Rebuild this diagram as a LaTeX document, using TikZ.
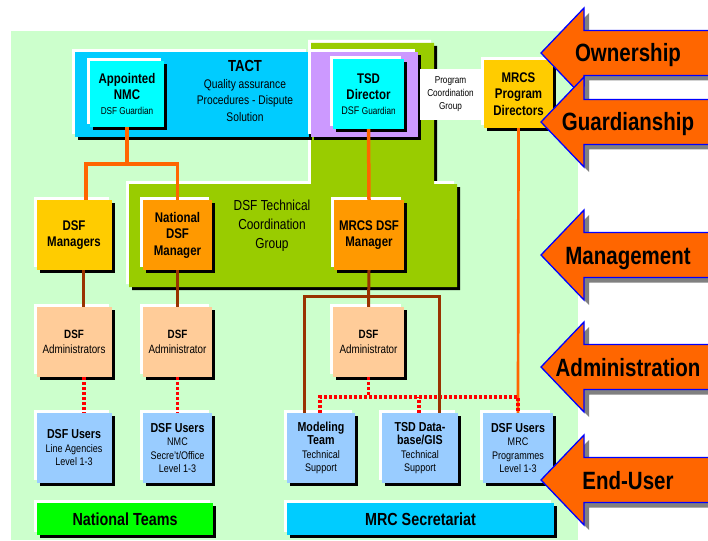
\documentclass[tikz,border=0pt]{standalone}
\usepackage{fontspec}
\setmainfont{Liberation Sans}[FakeStretch=0.82]
\usetikzlibrary{positioning}
\definecolor{cmint}{HTML}{CCFFCC}
\definecolor{colive}{HTML}{99CC00}
\definecolor{csky}{HTML}{00CCFF}
\definecolor{ccyan}{HTML}{00FFFF}
\definecolor{clilac}{HTML}{CC99FF}
\definecolor{cgold}{HTML}{FFCC00}
\definecolor{camber}{HTML}{FF9900}
\definecolor{cpeach}{HTML}{FFCC99}
\definecolor{cpale}{HTML}{99CCFF}
\definecolor{clime}{HTML}{00FF00}
\definecolor{corange}{HTML}{FF6600}
\definecolor{cbrown}{HTML}{993300}
\definecolor{cred}{HTML}{FF0000}
\definecolor{cedge}{HTML}{0000FF}
\definecolor{cgrey}{HTML}{808080}
\newcommand{\fsz}[2]{\fontsize{#1}{#2}\selectfont}
\newcommand{\uhead}[1]{{\fsz{13}{15}\bfseries #1}}
\tikzset{
  chartbox/.style={fill=#1, inner sep=0pt, align=center,
    preaction={fill=black, transform canvas={xshift=3pt, yshift=-3pt}},
    preaction={fill=white, transform canvas={xshift=-3pt, yshift=3pt}}},
  chartbox/.default=white,
  mgrbox/.style={chartbox=#1, minimum height=70pt, font=\fsz{14}{16.5}\bfseries},
  admbox/.style={chartbox=cpeach, minimum height=70pt, font=\fsz{12}{15}},
  userbox/.style={chartbox=cpale, minimum height=70pt, font=\fsz{11}{13.5}},
  barbox/.style={chartbox=#1, minimum height=32pt, font=\fsz{17.5}{20}\bfseries},
  orangeline/.style={draw=corange, line width=3.5pt},
  brownline/.style={draw=cbrown, line width=3pt},
  reddots/.style={draw=cred, line width=3.5pt, dash pattern=on 3pt off 2pt},
  levelarrow/.style={fill=corange, draw=cedge, line width=1.3pt, line join=miter},
  leveltext/.style={font=\fsz{25}{28}\bfseries, anchor=base},
}

\begin{document}
\begin{tikzpicture}[x=1pt, y=-1pt]
  \clip (0,0) rectangle (708,540);
  \fill[white] (0,0) rectangle (708,540);
  \fill[cmint] (11,31) rectangle (578,540);
  % technical coordination block
  \path[chartbox=colive] (311,43) -- (434,43) -- (434,184) -- (457,184) -- (457,287)
    -- (129,287) -- (129,184) -- (311,184) -- cycle;
  \node[font=\fsz{14.5}{19}, align=center] (tcg) at (272,226) {DSF Technical\\Coordination\\Group};
  % TACT strip and guardians
  \path[chartbox=csky] (75,52) rectangle (309,137);
  \path[chartbox=clilac] (311,52) rectangle (418,137);
  \node[font=\fsz{12.5}{16.5}, align=center] (tact) at (245,91)
    {{\fsz{16}{16.5}\bfseries TACT}\\Quality assurance\\Procedures - Dispute\\Solution};
  \node[chartbox=ccyan, minimum width=74pt, minimum height=66pt, font=\fsz{14}{16.5}\bfseries] (nmc) at (127,94)
    {Appointed\\NMC\\[-1.5pt]{\fsz{10}{12}\mdseries DSF Guardian}};
  \node[chartbox=ccyan, minimum width=71pt, minimum height=70pt, font=\fsz{14}{16.5}\bfseries] (tsd) at (368.5,94)
    {TSD\\Director\\[-1.5pt]{\mdseries\fsz{11}{12}DSF \fsz{10}{12}Guardian}};
  \node[fill=white, inner sep=0pt, minimum width=61pt, minimum height=51pt, align=center, font=\fsz{10}{13}] (pcg) at (450.5,94.5)
    {Program\\Coordination\\Group};
  \node[chartbox=cgold, minimum width=69pt, minimum height=68pt, font=\fsz{14}{16.5}\bfseries] (mrcsprog) at (518.5,94)
    {MRCS\\Program\\Directors};
  % managers
  \node[mgrbox=cgold, minimum width=75pt] (dsfmgrs) at (74,235) {DSF\\Managers};
  \node[mgrbox=camber, minimum width=69pt] (natmgr) at (177.5,235) {National\\DSF\\Manager};
  \node[mgrbox=camber, minimum width=70pt] (mrcsmgr) at (369,235) {MRCS DSF\\Manager};
  % administrators
  \node[admbox, minimum width=75pt] (admins) at (74,342) {\textbf{DSF}\\Administrators};
  \node[admbox, minimum width=69pt] (natadmin) at (177.5,342) {\textbf{DSF}\\Administrator};
  \node[admbox, minimum width=71pt] (mrcsadmin) at (368.5,342) {\textbf{DSF}\\Administrator};
  % users
  \node[userbox, minimum width=75pt] (linusers) at (74,448) {\uhead{DSF Users}\\Line Agencies\\Level 1-3};
  \node[userbox, minimum width=69pt] (nmcusers) at (177.5,448) {\uhead{DSF Users}\\NMC\\Secre't/Office\\Level 1-3};
  \node[userbox, minimum width=68pt] (modeling) at (321,448) {\uhead{Modeling}\\\uhead{Team}\\Technical\\Support};
  \node[userbox, minimum width=76pt] (tsddb) at (420,448) {\uhead{TSD Data-}\\\uhead{base/GIS}\\Technical\\Support};
  \node[userbox, minimum width=70pt] (mrcusers) at (518,448) {\uhead{DSF Users}\\MRC\\Programmes\\Level 1-3};
  % team bars
  \node[barbox=clime, minimum width=176pt] (natteams) at (125,519) {National Teams};
  \node[barbox=csky, minimum width=267pt] (mrcsec) at (420.5,519) {MRC Secretariat};
  % connectors
  \coordinate (nmcjoin) at (127,164);
  \draw[orangeline] (nmc.south) -- (nmcjoin);
  \draw[orangeline] ([xshift=12pt]dsfmgrs.north) |- (nmcjoin) -| (natmgr.north);
  \draw[orangeline] (tsd.south) -- (mrcsmgr.north);
  \draw[orangeline, line width=2.7pt] (mrcsprog.south) -- (mrcusers.north);
  \coordinate (redjoin) at (368.5,397);
  \draw[reddots] ([xshift=10pt]admins.south) -- ([xshift=10pt]linusers.north);
  \draw[reddots] (natadmin.south) -- (nmcusers.north);
  \draw[reddots] (mrcsadmin.south) -- (redjoin);
  \draw[reddots] ([xshift=-1pt]modeling.north) |- (redjoin) -| (mrcusers.north);
  \draw[reddots] ([xshift=-1pt]tsddb.north) -- ([xshift=-1pt]tsddb.north |- redjoin);
  \coordinate (brownjoin) at (369,296);
  \draw[brownline] ([xshift=9pt]dsfmgrs.south) -- ([xshift=9pt]admins.north);
  \draw[brownline] (natmgr.south) -- (natadmin.north);
  \draw[brownline] (mrcsmgr.south) -- (mrcsadmin.north);
  \draw[brownline] ([xshift=-17pt]modeling.north) |- (brownjoin) -| ([xshift=19pt]tsddb.north);
  % responsibility levels
  \foreach \ay/\atext in {53/Ownership, 122/Guardianship, 255/Management, 367/Administration, 480/End-User} {
    \begin{scope}[shift={(0,\ay)}]
      \fill[cgrey] (546,5) -- (589,-40) -- (589,-17.5) -- (720,-17.5) -- (720,27.5) -- (589,27.5) -- (589,50) -- cycle;
      \path[levelarrow] (541,0) -- (584,-45) -- (584,-22.5) -- (720,-22.5) -- (720,22.5) -- (584,22.5) -- (584,45) -- cycle;
      \node[leveltext] (lvl\ay) at (628,9) {\atext};
    \end{scope}
  }
\end{tikzpicture}
\end{document}
